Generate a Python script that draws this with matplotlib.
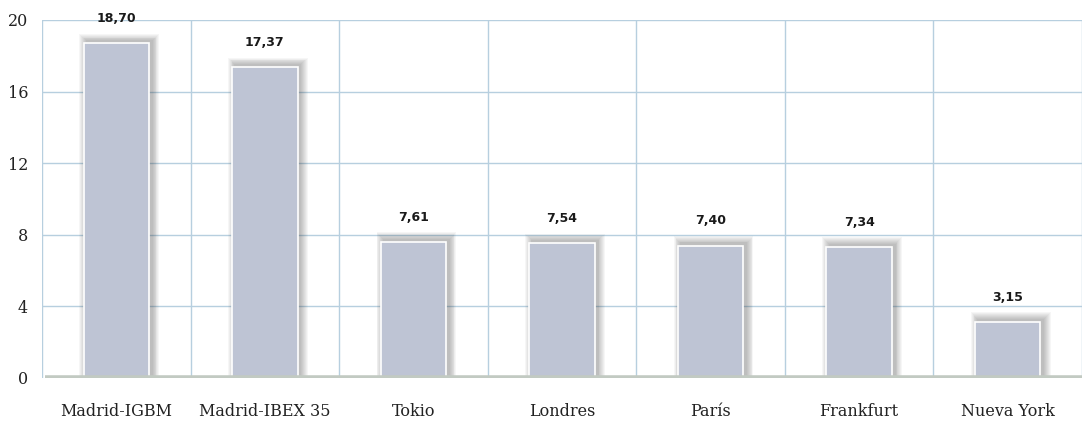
import numpy as np
import matplotlib.pyplot as plt

# Rentabilidad por plaza bursátil
plazas = ["Madrid-IGBM", "Madrid-IBEX 35", "Tokio", "Londres", "París",
          "Frankfurt", "Nueva York"]
valores = [18.70, 17.37, 7.61, 7.54, 7.40, 7.34, 3.15]
yticks = [0, 4, 8, 12, 16, 20]

grid_c = "#b7cfdf"
bar_c = "#bec4d4"

fig = plt.figure(figsize=(10.82, 4.21), dpi=100)
ax = fig.add_axes([42 / 1082, 43 / 421, 1 - 42 / 1082, 358 / 421])

x = np.arange(len(plazas))
w = 0.44

# soft shadow behind each bar, pushed a little up and right
for k in range(8):
    grow = 0.006 * (k + 1)
    ax.bar(x + 0.02, np.array(valores) + 0.12 + 0.05 * (k + 1),
           width=w + 2 * grow, color="#303030", alpha=0.045,
           linewidth=0, zorder=2)

ax.bar(x, valores, width=w, color=bar_c, edgecolor="white",
       linewidth=1.2, zorder=3)

for xi, v in zip(x, valores):
    ax.annotate(f"{v:.2f}".replace(".", ","), (xi, v), xytext=(0, 13),
                textcoords="offset points", ha="center", va="bottom",
                fontsize=9, fontweight="bold", color="#1a1a1a", zorder=4)

ax.set_xlim(-0.5, len(plazas) - 0.5)
ax.set_ylim(0, 20)
ax.set_yticks(yticks)
ax.set_yticklabels([str(t) for t in yticks], family="DejaVu Serif")
ax.set_xticks(x)
ax.set_xticklabels(plazas, family="DejaVu Serif")

# gridlines between categories and at each y tick
for b in np.arange(len(plazas) + 1) - 0.5:
    ax.axvline(b, color=grid_c, lw=1.0, zorder=1)
for t in yticks[1:]:
    ax.axhline(t, color=grid_c, lw=1.0, zorder=1)

ax.axhline(0, xmin=0.003, color="#c2cac2", lw=4, zorder=5,
           solid_capstyle="butt")

for s in ax.spines.values():
    s.set_visible(False)
ax.tick_params(length=0, labelsize=11.5, colors="#222222")
ax.tick_params(axis="x", pad=18)
ax.tick_params(axis="y", pad=10)

fig.savefig("out.png", dpi=100)
